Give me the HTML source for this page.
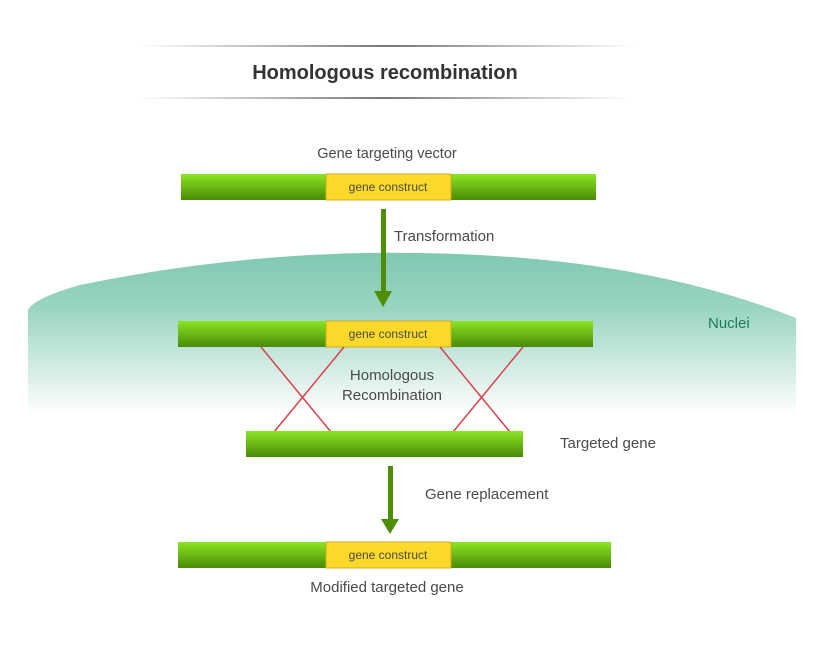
<!DOCTYPE html>
<html><head><meta charset="utf-8"><style>
html,body{margin:0;padding:0;background:#fff;}
svg{display:block;}
text{font-family:"Liberation Sans",sans-serif;fill:#4a4a4a;}
</style></head><body>
<svg width="817" height="645" viewBox="0 0 817 645" xmlns="http://www.w3.org/2000/svg">
<defs>
<linearGradient id="hl" x1="0" x2="1" y1="0" y2="0">
<stop offset="0" stop-color="#fff"/><stop offset="0.5" stop-color="#777"/><stop offset="1" stop-color="#fff"/>
</linearGradient>
<linearGradient id="g" x1="0" x2="0" y1="0" y2="1">
<stop offset="0" stop-color="#8ae624"/><stop offset="1" stop-color="#4a8a06"/>
</linearGradient>
<linearGradient id="n" x1="0" x2="0" y1="253" y2="415" gradientUnits="userSpaceOnUse">
<stop offset="0" stop-color="#80c8b2"/><stop offset="0.35" stop-color="#9ad5c3"/><stop offset="1" stop-color="#fff"/>
</linearGradient>
</defs>
<rect x="140" y="45" width="495" height="2" fill="url(#hl)"/>
<rect x="140" y="97" width="490" height="2" fill="url(#hl)"/>
<text x="385" y="79" font-size="20" text-anchor="middle" font-weight="bold" style="fill:#333">Homologous recombination</text>

<path d="M28 310 Q34 298 80 285 Q250 250 420 253 Q640 256 796 318 L796 420 L28 420 Z" fill="url(#n)"/>
<text x="708" y="328" font-size="15" style="fill:#1f7a5c">Nuclei</text>

<text x="387" y="158" font-size="14.5" text-anchor="middle">Gene targeting vector</text>
<rect x="181" y="174" width="415" height="26" fill="url(#g)"/>
<rect x="326" y="174" width="125" height="26" fill="#fbd92a" stroke="#d4aa20" stroke-width="1"/>
<text x="388" y="191" font-size="12" text-anchor="middle">gene construct</text>

<rect x="381" y="209" width="5" height="82" fill="#4e8e05"/>
<polygon points="374,291 392,291 383,307" fill="#4e8e05"/>
<text x="394" y="241" font-size="15">Transformation</text>

<rect x="178" y="321" width="415" height="26" fill="url(#g)"/>
<rect x="326" y="321" width="125" height="26" fill="#fbd92a" stroke="#d4aa20" stroke-width="1"/>
<text x="388" y="338" font-size="12" text-anchor="middle">gene construct</text>

<g stroke="#d9424a" stroke-width="1.5">
<line x1="261" y1="347" x2="331" y2="432"/>
<line x1="344" y1="347" x2="274" y2="432"/>
<line x1="440" y1="347" x2="510" y2="432"/>
<line x1="523" y1="347" x2="453" y2="432"/>
</g>
<text x="392" y="380" font-size="15" text-anchor="middle">Homologous</text>
<text x="392" y="400" font-size="15" text-anchor="middle">Recombination</text>

<rect x="246" y="431" width="277" height="26" fill="url(#g)"/>
<text x="560" y="448" font-size="15">Targeted gene</text>

<rect x="388" y="466" width="5" height="53" fill="#4e8e05"/>
<polygon points="381,519 399,519 390,534" fill="#4e8e05"/>
<text x="425" y="499" font-size="15">Gene replacement</text>

<rect x="178" y="542" width="433" height="26" fill="url(#g)"/>
<rect x="326" y="542" width="125" height="26" fill="#fbd92a" stroke="#d4aa20" stroke-width="1"/>
<text x="388" y="559" font-size="12" text-anchor="middle">gene construct</text>
<text x="387" y="592" font-size="15" text-anchor="middle">Modified targeted gene</text>
</svg>
</body></html>
